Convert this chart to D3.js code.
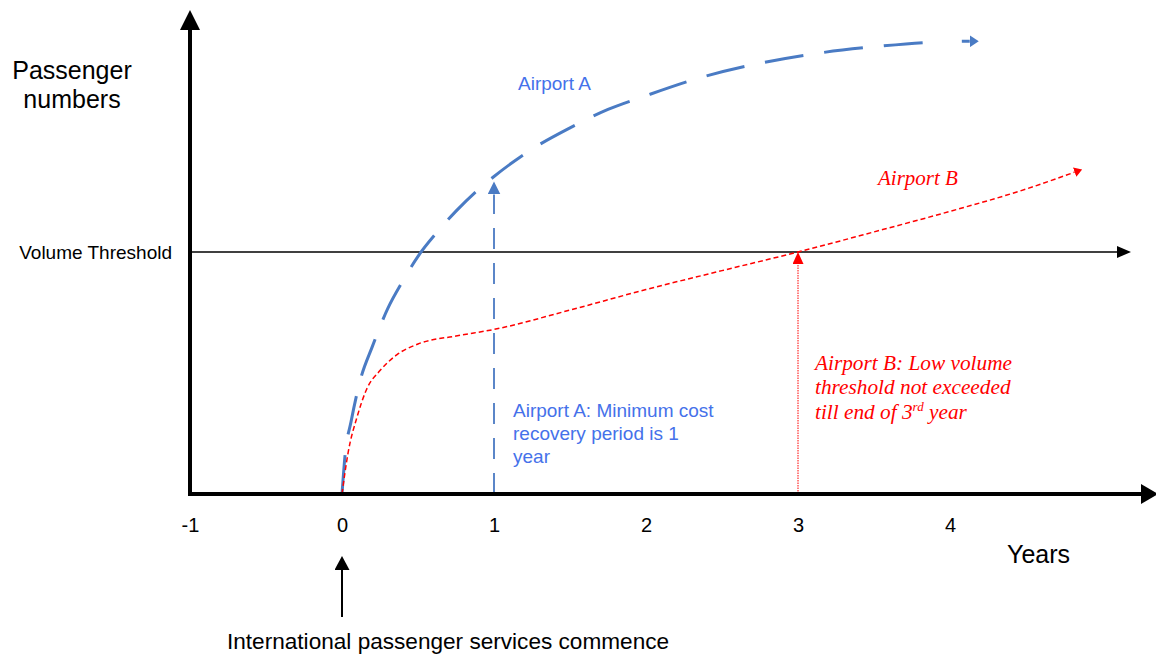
<!DOCTYPE html>
<html>
<head>
<meta charset="utf-8">
<script src="https://cdn.jsdelivr.net/npm/d3@7"></script>
<style>
  body { margin: 0; background: #fff; }
  svg { display: block; }
</style>
</head>
<body>
<svg id="chart" width="1156" height="656"></svg>
<script>
// Years shown on the horizontal axis
const yearTicks = [-1, 0, 1, 2, 3, 4];
// Passenger index, the volume threshold being 100
const volumeThreshold = 100;
const startYear = 0;
const recoveryYearA = 1;
const breakEvenYearB = 3;

// Airport A: fast ramp-up, levelling off
const airportAYears  = [0, 0.02, 0.06, 0.12, 0.2, 0.3, 0.4, 0.5, 0.63, 0.75, 0.9, 1.0, 1.25, 1.5, 1.75, 2.0, 2.35, 2.75, 3.15, 3.55, 3.95, 4.13];
const airportAValues = [0, 16, 30, 47, 61, 76.5, 88, 98.2, 108.5, 116.9, 126, 131.2, 142.5, 151.3, 158.9, 164.6, 171.9, 178, 182.3, 185.1, 186.9, 187.1];

// Airport B: quick initial jump, then slow growth
const airportBYears  = [0, 0.04, 0.1, 0.16, 0.25, 0.36, 0.5, 0.75, 1.0, 1.5, 2.0, 2.5, 3.0, 3.5, 4.0, 4.5, 4.82];
const airportBValues = [0, 17, 32, 43, 51, 57.5, 62, 65.3, 68, 76, 84.5, 92.3, 100, 108.3, 116.8, 126, 133];

const sans = "'Liberation Sans', Arial, Helvetica, sans-serif";
const serif = "'Liberation Serif', 'Times New Roman', Times, serif";
const blueLine = "#4a7bc4";
const blueText = "#4571ea";
const red = "#ff0000";

const svg = d3.select("#chart");

const x = d3.scaleLinear().domain([-1, 4]).range([190, 950]);
const y = d3.scaleLinear().domain([0, volumeThreshold]).range([494, 252]);

// Arrowhead markers (base of the head sits on the line's end point)
const defs = svg.append("defs");
function marker(id, len, wid, color) {
  defs.append("marker")
    .attr("id", id)
    .attr("markerUnits", "userSpaceOnUse")
    .attr("viewBox", `0 0 ${len} ${wid}`)
    .attr("markerWidth", len)
    .attr("markerHeight", wid)
    .attr("refX", 0)
    .attr("refY", wid / 2)
    .attr("orient", "auto")
    .append("path")
    .attr("d", `M0,0L${len},${wid / 2}L0,${wid}Z`)
    .attr("fill", color);
}
marker("headAxisX", 17, 20, "#000");
marker("headAxisY", 20, 20, "#000");
marker("headThreshold", 14, 12, "#000");
marker("headA", 9, 12, blueLine);
marker("headB", 8, 10, red);
marker("headRecovery", 13, 13, blueLine);
marker("headBreakEven", 12, 11, red);
marker("headStart", 14, 15, "#000");

const xMin = x.range()[0];
const yBase = y(0);

// Volume threshold line
svg.append("line")
  .attr("x1", xMin).attr("x2", 1117)
  .attr("y1", y(volumeThreshold)).attr("y2", y(volumeThreshold))
  .attr("stroke", "#000").attr("stroke-width", 1.5)
  .attr("marker-end", "url(#headThreshold)");

// Curves
const line = d3.line()
  .x(d => x(d[0]))
  .y(d => y(d[1]))
  .curve(d3.curveMonotoneX);

const dataA = airportAYears.map((t, i) => [t, airportAValues[i]]);
const dataB = airportBYears.map((t, i) => [t, airportBValues[i]]);

const pathA = svg.append("path")
  .attr("d", line(dataA))
  .attr("fill", "none")
  .attr("stroke", blueLine)
  .attr("stroke-width", 3)
  .attr("marker-end", "url(#headA)");

// Long dashes, ending in a short stub before the arrowhead
(function () {
  const L = pathA.node().getTotalLength();
  const dash = 39, gap = 21, stub = 8;
  const arr = [];
  let pos = 0;
  while (pos + dash + gap + stub + gap <= L) { arr.push(dash, gap); pos += dash + gap; }
  const r = L - pos;
  const lastDash = Math.max(0, Math.min(dash, r - stub - gap));
  arr.push(lastDash, r - stub - lastDash, stub, 1000);
  pathA.attr("stroke-dasharray", arr.join(","));
})();

svg.append("path")
  .attr("d", line(dataB))
  .attr("fill", "none")
  .attr("stroke", red)
  .attr("stroke-width", 1.5)
  .attr("stroke-dasharray", "5,3")
  .attr("marker-end", "url(#headB)");

// Airport A recovery arrow at year 1
const aAtRecovery = airportAValues[airportAYears.indexOf(recoveryYearA)];
svg.append("line")
  .attr("x1", x(recoveryYearA)).attr("x2", x(recoveryYearA))
  .attr("y1", yBase).attr("y2", y(aAtRecovery) + 5 + 13)
  .attr("stroke", "#5b86c8").attr("stroke-width", 2)
  .attr("stroke-dasharray", "21,14")
  .attr("marker-end", "url(#headRecovery)");

// Airport B threshold crossing arrow at year 3
svg.append("line")
  .attr("x1", x(breakEvenYearB)).attr("x2", x(breakEvenYearB))
  .attr("y1", yBase).attr("y2", y(volumeThreshold) + 12)
  .attr("stroke", red).attr("stroke-width", 1)
  .attr("stroke-dasharray", "1.5,1")
  .attr("marker-end", "url(#headBreakEven)");

// Axes (thick lines with arrowheads)
svg.append("line")
  .attr("x1", xMin - 2).attr("x2", 1141)
  .attr("y1", yBase).attr("y2", yBase)
  .attr("stroke", "#000").attr("stroke-width", 4)
  .attr("marker-end", "url(#headAxisX)");

svg.append("line")
  .attr("x1", xMin).attr("x2", xMin)
  .attr("y1", yBase + 2).attr("y2", 30)
  .attr("stroke", "#000").attr("stroke-width", 4)
  .attr("marker-end", "url(#headAxisY)");

// Year tick labels
svg.append("g")
  .attr("transform", `translate(0,${yBase})`)
  .call(d3.axisBottom(x).tickValues(yearTicks).tickSize(0).tickPadding(24).tickFormat(d => String(d)))
  .call(g => g.select(".domain").remove())
  .attr("font-family", sans)
  .attr("font-size", 20)
  .selectAll("text").attr("fill", "#000");

// Threshold label on the vertical axis
svg.append("g")
  .attr("transform", `translate(${xMin},0)`)
  .call(d3.axisLeft(y).tickValues([volumeThreshold]).tickSize(0).tickPadding(18).tickFormat(() => "Volume Threshold"))
  .call(g => g.select(".domain").remove())
  .attr("font-family", sans)
  .attr("font-size", 19)
  .selectAll("text").attr("fill", "#000");

// Axis titles
const yTitle = svg.append("text")
  .attr("font-family", sans).attr("font-size", 25)
  .attr("text-anchor", "middle").attr("fill", "#000");
yTitle.append("tspan").attr("x", 72).attr("y", 79).text("Passenger");
yTitle.append("tspan").attr("x", 72).attr("y", 108).text("numbers");

svg.append("text")
  .attr("x", 1007).attr("y", 563)
  .attr("font-family", sans).attr("font-size", 25)
  .attr("fill", "#000")
  .text("Years");

// Start-of-service marker
svg.append("line")
  .attr("x1", x(startYear)).attr("x2", x(startYear))
  .attr("y1", 617).attr("y2", 570)
  .attr("stroke", "#000").attr("stroke-width", 2)
  .attr("marker-end", "url(#headStart)");

svg.append("text")
  .attr("x", 227).attr("y", 649)
  .attr("font-family", sans).attr("font-size", 22.6)
  .attr("fill", "#000")
  .text("International passenger services commence");

// Series labels
svg.append("text")
  .attr("x", 518).attr("y", 90)
  .attr("font-family", sans).attr("font-size", 19)
  .attr("fill", blueText)
  .text("Airport A");

svg.append("text")
  .attr("x", 878).attr("y", 185)
  .attr("font-family", serif).attr("font-size", 21).attr("font-style", "italic")
  .attr("fill", red)
  .text("Airport B");

// Annotations
const noteA = svg.append("text")
  .attr("font-family", sans).attr("font-size", 19)
  .attr("fill", blueText);
[["Airport A: Minimum cost", 417], ["recovery period is 1", 440], ["year", 463]]
  .forEach(([t, yy]) => noteA.append("tspan").attr("x", 513).attr("y", yy).text(t));

const noteB = svg.append("text")
  .attr("font-family", serif).attr("font-size", 21.3).attr("font-style", "italic")
  .attr("fill", red);
noteB.append("tspan").attr("x", 815).attr("y", 370).text("Airport B: Low volume");
noteB.append("tspan").attr("x", 815).attr("y", 394).text("threshold not exceeded");
const l3 = noteB.append("tspan").attr("x", 815).attr("y", 419);
l3.append("tspan").text("till end of 3");
l3.append("tspan").attr("font-size", 13).attr("dy", -8).text("rd");
l3.append("tspan").attr("dy", 8).text(" year");
</script>
</body>
</html>
